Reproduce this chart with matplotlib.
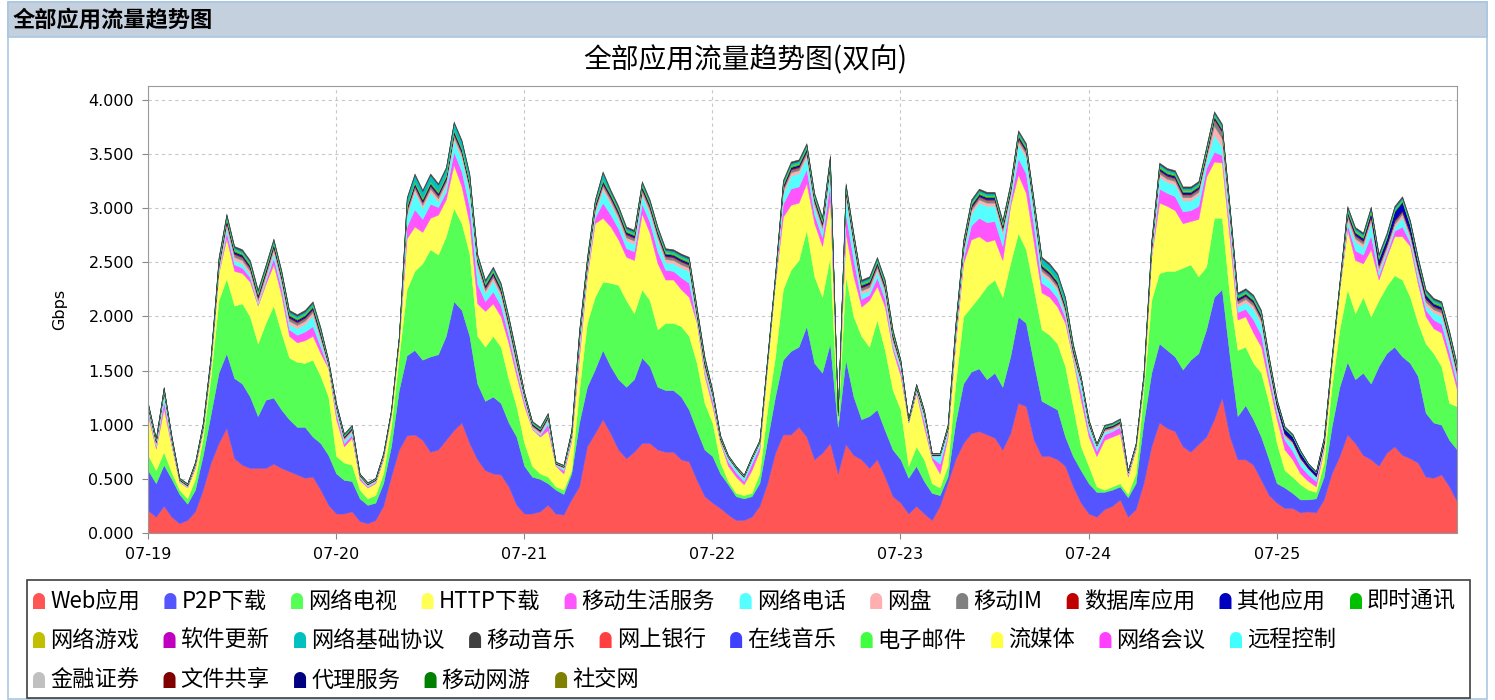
import matplotlib
matplotlib.use("Agg")
import matplotlib.pyplot as plt
import numpy as np
from matplotlib.patches import Polygon, Rectangle
from matplotlib.ticker import FormatStrFormatter

plt.rcParams["font.family"] = ["Noto Sans CJK SC", "DejaVu Sans"]

FIG_W, FIG_H = 1495, 700

day_labels = ["07-19", "07-20", "07-21", "07-22", "07-23", "07-24", "07-25"]
hours = np.arange(168)

# hourly values in Gbps, one row per day
web = [
    0.21, 0.15, 0.25, 0.15, 0.09, 0.12, 0.20, 0.40, 0.65, 0.83, 0.97, 0.69, 0.63, 0.60, 0.60, 0.60, 0.64, 0.60, 0.57, 0.54, 0.51, 0.52, 0.40, 0.26,
    0.18, 0.18, 0.20, 0.11, 0.09, 0.12, 0.25, 0.52, 0.77, 0.90, 0.91, 0.86, 0.75, 0.77, 0.86, 0.95, 1.02, 0.83, 0.68, 0.58, 0.55, 0.54, 0.43, 0.26,
    0.18, 0.18, 0.20, 0.26, 0.18, 0.17, 0.31, 0.43, 0.80, 0.92, 1.05, 0.92, 0.77, 0.69, 0.75, 0.83, 0.83, 0.77, 0.75, 0.75, 0.68, 0.66, 0.49, 0.34,
    0.28, 0.23, 0.17, 0.12, 0.12, 0.15, 0.25, 0.46, 0.74, 0.91, 0.91, 0.98, 0.89, 0.68, 0.74, 0.83, 0.55, 0.82, 0.72, 0.68, 0.60, 0.68, 0.52, 0.34,
    0.28, 0.18, 0.25, 0.18, 0.12, 0.25, 0.46, 0.68, 0.83, 0.92, 0.94, 0.91, 0.88, 0.77, 0.92, 1.20, 1.17, 0.86, 0.71, 0.71, 0.68, 0.62, 0.43, 0.28,
    0.18, 0.15, 0.22, 0.25, 0.31, 0.15, 0.22, 0.46, 0.80, 1.02, 0.97, 0.94, 0.80, 0.75, 0.82, 0.89, 1.05, 1.25, 0.89, 0.68, 0.68, 0.63, 0.49, 0.35,
    0.28, 0.23, 0.23, 0.19, 0.20, 0.19, 0.31, 0.55, 0.71, 0.91, 0.83, 0.72, 0.68, 0.62, 0.74, 0.80, 0.72, 0.69, 0.65, 0.52, 0.51, 0.54, 0.43, 0.29,
]
p2p = [
    0.37, 0.31, 0.38, 0.35, 0.27, 0.15, 0.20, 0.32, 0.45, 0.65, 0.69, 0.74, 0.75, 0.66, 0.48, 0.63, 0.61, 0.54, 0.48, 0.44, 0.47, 0.37, 0.43, 0.46,
    0.37, 0.31, 0.28, 0.21, 0.17, 0.16, 0.21, 0.28, 0.55, 0.74, 0.78, 0.74, 0.88, 0.88, 0.96, 1.19, 1.04, 0.99, 0.70, 0.64, 0.71, 0.66, 0.59, 0.63,
    0.44, 0.34, 0.30, 0.20, 0.22, 0.19, 0.24, 0.59, 0.55, 0.59, 0.64, 0.62, 0.65, 0.66, 0.67, 0.79, 0.71, 0.58, 0.57, 0.57, 0.58, 0.48, 0.46, 0.43,
    0.43, 0.32, 0.28, 0.22, 0.20, 0.19, 0.21, 0.40, 0.52, 0.69, 0.77, 0.74, 1.02, 0.89, 0.74, 0.92, 0.43, 0.78, 0.54, 0.37, 0.48, 0.46, 0.43, 0.43,
    0.40, 0.33, 0.37, 0.30, 0.25, 0.10, 0.06, 0.34, 0.55, 0.57, 0.58, 0.51, 0.60, 0.58, 0.71, 0.80, 0.77, 0.71, 0.51, 0.47, 0.46, 0.27, 0.28, 0.30,
    0.28, 0.23, 0.16, 0.15, 0.12, 0.18, 0.24, 0.56, 0.68, 0.73, 0.72, 0.69, 0.71, 0.85, 0.84, 0.99, 1.13, 1.00, 0.74, 0.40, 0.50, 0.42, 0.40, 0.33,
    0.18, 0.19, 0.14, 0.12, 0.11, 0.13, 0.21, 0.43, 0.64, 0.67, 0.59, 0.76, 0.70, 0.92, 0.92, 0.92, 0.91, 0.88, 0.80, 0.59, 0.51, 0.46, 0.43, 0.48,
]
web_tv = [
    0.14, 0.12, 0.12, 0.06, 0.04, 0.05, 0.10, 0.16, 0.35, 0.67, 0.69, 0.67, 0.74, 0.74, 0.67, 0.71, 0.85, 0.71, 0.57, 0.60, 0.59, 0.71, 0.62, 0.54,
    0.16, 0.16, 0.15, 0.08, 0.06, 0.07, 0.09, 0.18, 0.31, 0.61, 0.73, 0.89, 0.99, 0.92, 0.92, 0.86, 0.80, 0.76, 0.44, 0.50, 0.56, 0.52, 0.40, 0.28,
    0.21, 0.10, 0.05, 0.06, 0.03, 0.04, 0.03, 0.30, 0.59, 0.67, 0.63, 0.77, 0.87, 0.80, 0.61, 0.63, 0.61, 0.53, 0.62, 0.62, 0.65, 0.68, 0.62, 0.43,
    0.31, 0.10, 0.03, 0.03, 0.03, 0.03, 0.09, 0.28, 0.37, 0.65, 0.75, 0.80, 0.89, 0.80, 0.70, 0.80, 0.06, 0.77, 0.74, 0.77, 0.64, 0.83, 0.74, 0.55,
    0.46, 0.11, 0.18, 0.20, 0.09, 0.07, 0.10, 0.36, 0.62, 0.60, 0.66, 0.86, 0.86, 0.83, 0.86, 0.77, 0.68, 0.68, 0.66, 0.65, 0.61, 0.65, 0.46, 0.22,
    0.16, 0.05, 0.02, 0.03, 0.03, 0.03, 0.09, 0.30, 0.67, 0.65, 0.73, 0.79, 0.94, 0.88, 0.71, 0.58, 0.73, 0.66, 0.55, 0.61, 0.54, 0.52, 0.59, 0.52,
    0.37, 0.16, 0.15, 0.14, 0.09, 0.06, 0.13, 0.37, 0.53, 0.67, 0.61, 0.70, 0.62, 0.61, 0.62, 0.66, 0.71, 0.61, 0.49, 0.64, 0.64, 0.54, 0.34, 0.40,
]
http = [
    0.36, 0.20, 0.40, 0.24, 0.07, 0.10, 0.10, 0.07, 0.10, 0.25, 0.37, 0.32, 0.28, 0.32, 0.35, 0.36, 0.38, 0.35, 0.20, 0.18, 0.21, 0.22, 0.21, 0.26,
    0.34, 0.15, 0.25, 0.09, 0.10, 0.11, 0.13, 0.11, 0.12, 0.47, 0.41, 0.29, 0.29, 0.37, 0.34, 0.40, 0.34, 0.28, 0.30, 0.33, 0.30, 0.28, 0.33, 0.28,
    0.34, 0.34, 0.34, 0.43, 0.19, 0.15, 0.27, 0.31, 0.43, 0.68, 0.59, 0.52, 0.42, 0.40, 0.49, 0.70, 0.62, 0.61, 0.40, 0.40, 0.34, 0.36, 0.37, 0.25,
    0.15, 0.18, 0.14, 0.15, 0.10, 0.21, 0.21, 0.40, 0.68, 0.67, 0.60, 0.53, 0.43, 0.49, 0.47, 0.53, 0.03, 0.40, 0.37, 0.27, 0.43, 0.31, 0.40, 0.37,
    0.31, 0.40, 0.49, 0.30, 0.22, 0.13, 0.26, 0.37, 0.49, 0.62, 0.56, 0.41, 0.37, 0.34, 0.53, 0.54, 0.52, 0.43, 0.34, 0.35, 0.34, 0.40, 0.43, 0.43,
    0.27, 0.28, 0.46, 0.46, 0.46, 0.16, 0.22, 0.06, 0.40, 0.65, 0.60, 0.56, 0.41, 0.40, 0.53, 0.83, 0.52, 0.51, 0.53, 0.28, 0.28, 0.28, 0.24, 0.18,
    0.22, 0.19, 0.16, 0.10, 0.08, 0.05, 0.12, 0.20, 0.37, 0.55, 0.49, 0.31, 0.62, 0.19, 0.27, 0.36, 0.40, 0.47, 0.36, 0.25, 0.23, 0.31, 0.40, 0.15,
]
mobile_life = [
    0.03, 0.02, 0.07, 0.02, 0.005, 0.005, 0.02, 0.005, 0.02, 0.01, 0.06, 0.06, 0.05, 0.04, 0.01, 0.03, 0.06, 0.06, 0.06, 0.07, 0.08, 0.09, 0.06, 0.01,
    0.05, 0.03, 0.03, 0.02, 0.01, 0.01, 0.02, 0.01, 0.02, 0.11, 0.16, 0.12, 0.13, 0.07, 0.07, 0.12, 0.14, 0.15, 0.18, 0.09, 0.11, 0.10, 0.07, 0.05,
    0.04, 0.005, 0.015, 0.06, 0.005, 0.03, 0.02, 0.07, 0.03, 0.05, 0.14, 0.11, 0.10, 0.08, 0.08, 0.09, 0.10, 0.11, 0.09, 0.08, 0.11, 0.13, 0.01, 0.03,
    0.05, 0.005, 0.04, 0.04, 0.03, 0.06, 0.04, 0.015, 0.015, 0.12, 0.15, 0.15, 0.13, 0.08, 0.08, 0.15, 0.005, 0.18, 0.15, 0.07, 0.05, 0.08, 0.07, 0.03,
    0.05, 0.005, 0.015, 0.05, 0.02, 0.09, 0.03, 0.03, 0.05, 0.13, 0.17, 0.18, 0.17, 0.13, 0.04, 0.15, 0.18, 0.15, 0.09, 0.08, 0.08, 0.05, 0.01, 0.08,
    0.05, 0.05, 0.05, 0.05, 0.06, 0.02, 0.02, 0.02, 0.02, 0.13, 0.12, 0.13, 0.11, 0.10, 0.12, 0.08, 0.09, 0.07, 0.10, 0.07, 0.07, 0.12, 0.11, 0.07,
    0.06, 0.09, 0.08, 0.07, 0.06, 0.05, 0.02, 0.01, 0.005, 0.05, 0.09, 0.08, 0.13, 0.04, 0.03, 0.05, 0.09, 0.035, 0.05, 0.06, 0.08, 0.08, 0.07, 0.06,
]
voip = [
    0.025, 0.015, 0.065, 0.015, 0.005, 0.005, 0.01, 0.005, 0.015, 0.01, 0.04, 0.04, 0.04, 0.03, 0.01, 0.02, 0.05, 0.04, 0.05, 0.06, 0.07, 0.10, 0.05, 0.005,
    0.035, 0.025, 0.025, 0.01, 0.01, 0.01, 0.01, 0.01, 0.02, 0.10, 0.16, 0.10, 0.11, 0.05, 0.06, 0.11, 0.12, 0.14, 0.15, 0.07, 0.10, 0.08, 0.05, 0.03,
    0.025, 0.005, 0.01, 0.035, 0.005, 0.02, 0.015, 0.05, 0.02, 0.04, 0.12, 0.10, 0.08, 0.07, 0.07, 0.08, 0.08, 0.10, 0.07, 0.07, 0.09, 0.11, 0.01, 0.02,
    0.035, 0.005, 0.03, 0.03, 0.03, 0.04, 0.03, 0.01, 0.01, 0.09, 0.12, 0.12, 0.11, 0.07, 0.06, 0.13, 0.005, 0.15, 0.12, 0.05, 0.04, 0.06, 0.05, 0.03,
    0.035, 0.005, 0.01, 0.045, 0.01, 0.07, 0.025, 0.03, 0.04, 0.11, 0.14, 0.15, 0.14, 0.11, 0.04, 0.13, 0.15, 0.12, 0.08, 0.07, 0.07, 0.03, 0.01, 0.075,
    0.045, 0.04, 0.025, 0.015, 0.015, 0.01, 0.01, 0.015, 0.01, 0.11, 0.10, 0.11, 0.10, 0.09, 0.10, 0.07, 0.16, 0.075, 0.08, 0.05, 0.06, 0.10, 0.10, 0.05,
    0.04, 0.03, 0.06, 0.05, 0.05, 0.035, 0.015, 0.005, 0.005, 0.04, 0.08, 0.07, 0.12, 0.035, 0.025, 0.035, 0.085, 0.03, 0.045, 0.045, 0.065, 0.075, 0.065, 0.045,
]
net_disk = [
    0.015, 0.015, 0.015, 0.015, 0.006, 0.006, 0.006, 0.015, 0.015, 0.03, 0.03, 0.03, 0.03, 0.03, 0.03, 0.03, 0.03, 0.03, 0.03, 0.03, 0.03, 0.03, 0.03, 0.015,
    0.015, 0.015, 0.015, 0.006, 0.006, 0.006, 0.006, 0.006, 0.006, 0.03, 0.03, 0.03, 0.03, 0.03, 0.03, 0.03, 0.03, 0.03, 0.03, 0.03, 0.03, 0.03, 0.03, 0.03,
    0.015, 0.015, 0.015, 0.015, 0.006, 0.006, 0.015, 0.03, 0.03, 0.03, 0.03, 0.03, 0.03, 0.03, 0.03, 0.03, 0.03, 0.03, 0.03, 0.03, 0.03, 0.03, 0.03, 0.03,
    0.015, 0.015, 0.006, 0.006, 0.006, 0.006, 0.006, 0.015, 0.015, 0.03, 0.03, 0.03, 0.03, 0.03, 0.03, 0.03, 0.006, 0.03, 0.03, 0.03, 0.03, 0.03, 0.03, 0.03,
    0.015, 0.006, 0.015, 0.015, 0.006, 0.006, 0.015, 0.03, 0.03, 0.03, 0.03, 0.03, 0.03, 0.03, 0.03, 0.03, 0.03, 0.03, 0.03, 0.03, 0.03, 0.03, 0.03, 0.015,
    0.015, 0.006, 0.015, 0.015, 0.015, 0.006, 0.006, 0.015, 0.03, 0.03, 0.03, 0.03, 0.03, 0.03, 0.03, 0.03, 0.08, 0.08, 0.03, 0.03, 0.03, 0.03, 0.03, 0.03,
    0.015, 0.015, 0.015, 0.015, 0.006, 0.006, 0.015, 0.015, 0.015, 0.03, 0.03, 0.03, 0.03, 0.03, 0.03, 0.03, 0.03, 0.03, 0.03, 0.03, 0.03, 0.03, 0.03, 0.03,
]
mobile_im = [
    0.012, 0.012, 0.012, 0.012, 0.005, 0.005, 0.005, 0.012, 0.012, 0.025, 0.025, 0.025, 0.025, 0.025, 0.025, 0.025, 0.025, 0.025, 0.025, 0.025, 0.025, 0.025, 0.025, 0.012,
    0.012, 0.012, 0.012, 0.005, 0.005, 0.005, 0.005, 0.005, 0.005, 0.025, 0.025, 0.025, 0.025, 0.025, 0.025, 0.025, 0.025, 0.025, 0.025, 0.025, 0.025, 0.025, 0.025, 0.025,
    0.012, 0.012, 0.012, 0.012, 0.005, 0.005, 0.012, 0.025, 0.025, 0.025, 0.025, 0.025, 0.025, 0.025, 0.025, 0.025, 0.025, 0.025, 0.025, 0.025, 0.025, 0.025, 0.025, 0.025,
    0.012, 0.012, 0.005, 0.005, 0.005, 0.005, 0.005, 0.012, 0.012, 0.025, 0.025, 0.025, 0.025, 0.025, 0.025, 0.025, 0.005, 0.025, 0.025, 0.025, 0.025, 0.025, 0.025, 0.025,
    0.012, 0.005, 0.012, 0.012, 0.005, 0.005, 0.012, 0.025, 0.025, 0.025, 0.025, 0.025, 0.025, 0.025, 0.025, 0.025, 0.025, 0.025, 0.025, 0.025, 0.025, 0.025, 0.025, 0.012,
    0.012, 0.005, 0.012, 0.012, 0.012, 0.005, 0.005, 0.012, 0.025, 0.025, 0.025, 0.025, 0.025, 0.025, 0.025, 0.025, 0.06, 0.06, 0.025, 0.025, 0.025, 0.025, 0.025, 0.025,
    0.012, 0.012, 0.012, 0.012, 0.005, 0.005, 0.012, 0.012, 0.012, 0.025, 0.025, 0.025, 0.025, 0.025, 0.025, 0.025, 0.025, 0.025, 0.025, 0.025, 0.025, 0.025, 0.025, 0.025,
]
database = [
    0.004, 0.004, 0.004, 0.004, 0.002, 0.002, 0.002, 0.004, 0.004, 0.008, 0.008, 0.008, 0.008, 0.008, 0.008, 0.008, 0.008, 0.008, 0.008, 0.008, 0.008, 0.008, 0.008, 0.004,
    0.004, 0.004, 0.004, 0.002, 0.002, 0.002, 0.002, 0.002, 0.002, 0.008, 0.008, 0.008, 0.008, 0.008, 0.008, 0.008, 0.008, 0.008, 0.008, 0.008, 0.008, 0.008, 0.008, 0.008,
    0.004, 0.004, 0.004, 0.004, 0.002, 0.002, 0.004, 0.008, 0.008, 0.008, 0.008, 0.008, 0.008, 0.008, 0.008, 0.008, 0.008, 0.008, 0.008, 0.008, 0.008, 0.008, 0.008, 0.008,
    0.004, 0.004, 0.002, 0.002, 0.002, 0.002, 0.002, 0.004, 0.004, 0.008, 0.008, 0.008, 0.008, 0.008, 0.008, 0.008, 0.002, 0.008, 0.008, 0.008, 0.008, 0.008, 0.008, 0.008,
    0.004, 0.002, 0.004, 0.004, 0.002, 0.002, 0.004, 0.008, 0.008, 0.008, 0.008, 0.008, 0.008, 0.008, 0.008, 0.008, 0.008, 0.008, 0.008, 0.008, 0.008, 0.008, 0.008, 0.004,
    0.004, 0.002, 0.004, 0.004, 0.004, 0.002, 0.002, 0.004, 0.008, 0.008, 0.008, 0.008, 0.008, 0.008, 0.008, 0.008, 0.008, 0.008, 0.008, 0.008, 0.008, 0.008, 0.008, 0.008,
    0.004, 0.004, 0.004, 0.004, 0.002, 0.002, 0.004, 0.004, 0.004, 0.008, 0.008, 0.008, 0.008, 0.008, 0.008, 0.008, 0.008, 0.008, 0.008, 0.008, 0.008, 0.008, 0.008, 0.008,
]
other_apps = [
    0.008, 0.008, 0.008, 0.008, 0.004, 0.004, 0.004, 0.008, 0.008, 0.015, 0.015, 0.015, 0.015, 0.015, 0.015, 0.015, 0.015, 0.015, 0.015, 0.015, 0.015, 0.015, 0.015, 0.008,
    0.008, 0.008, 0.008, 0.004, 0.004, 0.004, 0.004, 0.004, 0.004, 0.015, 0.015, 0.015, 0.015, 0.015, 0.015, 0.015, 0.015, 0.015, 0.015, 0.015, 0.015, 0.015, 0.015, 0.015,
    0.008, 0.008, 0.008, 0.008, 0.004, 0.004, 0.008, 0.015, 0.015, 0.015, 0.015, 0.015, 0.015, 0.015, 0.015, 0.015, 0.015, 0.015, 0.015, 0.015, 0.015, 0.015, 0.015, 0.015,
    0.008, 0.008, 0.004, 0.004, 0.004, 0.004, 0.004, 0.008, 0.008, 0.015, 0.015, 0.015, 0.015, 0.015, 0.015, 0.015, 0.004, 0.015, 0.015, 0.015, 0.015, 0.015, 0.015, 0.015,
    0.008, 0.004, 0.008, 0.008, 0.004, 0.004, 0.008, 0.015, 0.015, 0.015, 0.015, 0.015, 0.015, 0.015, 0.015, 0.015, 0.015, 0.015, 0.015, 0.015, 0.015, 0.015, 0.015, 0.008,
    0.008, 0.004, 0.008, 0.008, 0.008, 0.004, 0.004, 0.008, 0.015, 0.015, 0.015, 0.015, 0.015, 0.015, 0.015, 0.015, 0.015, 0.015, 0.015, 0.015, 0.015, 0.015, 0.015, 0.015,
    0.03, 0.04, 0.04, 0.04, 0.03, 0.03, 0.025, 0.01, 0.008, 0.015, 0.02, 0.02, 0.03, 0.05, 0.05, 0.08, 0.08, 0.06, 0.04, 0.03, 0.02, 0.02, 0.02, 0.015,
]
instant_msg = [
    0.005, 0.005, 0.005, 0.005, 0.002, 0.002, 0.002, 0.005, 0.005, 0.01, 0.01, 0.01, 0.01, 0.01, 0.01, 0.01, 0.01, 0.01, 0.01, 0.01, 0.01, 0.01, 0.01, 0.005,
    0.005, 0.005, 0.005, 0.002, 0.002, 0.002, 0.002, 0.002, 0.002, 0.01, 0.01, 0.01, 0.01, 0.01, 0.01, 0.01, 0.01, 0.01, 0.01, 0.01, 0.01, 0.01, 0.01, 0.01,
    0.005, 0.005, 0.005, 0.005, 0.002, 0.002, 0.005, 0.01, 0.01, 0.01, 0.01, 0.01, 0.01, 0.01, 0.01, 0.01, 0.01, 0.01, 0.01, 0.01, 0.01, 0.01, 0.01, 0.01,
    0.005, 0.005, 0.002, 0.002, 0.002, 0.002, 0.002, 0.005, 0.005, 0.01, 0.01, 0.01, 0.01, 0.01, 0.01, 0.01, 0.002, 0.01, 0.01, 0.01, 0.01, 0.01, 0.01, 0.01,
    0.005, 0.002, 0.005, 0.005, 0.002, 0.002, 0.005, 0.01, 0.01, 0.01, 0.01, 0.01, 0.01, 0.01, 0.01, 0.01, 0.01, 0.01, 0.01, 0.01, 0.01, 0.01, 0.01, 0.005,
    0.005, 0.002, 0.005, 0.005, 0.005, 0.002, 0.002, 0.005, 0.01, 0.01, 0.01, 0.01, 0.01, 0.01, 0.01, 0.01, 0.01, 0.01, 0.01, 0.01, 0.01, 0.01, 0.01, 0.01,
    0.005, 0.005, 0.005, 0.005, 0.002, 0.002, 0.005, 0.005, 0.005, 0.01, 0.01, 0.01, 0.01, 0.01, 0.01, 0.01, 0.01, 0.01, 0.01, 0.01, 0.01, 0.01, 0.01, 0.01,
]
net_game = [
    0.003, 0.003, 0.003, 0.003, 0.002, 0.002, 0.002, 0.003, 0.003, 0.007, 0.007, 0.007, 0.007, 0.007, 0.007, 0.007, 0.007, 0.007, 0.007, 0.007, 0.007, 0.007, 0.007, 0.003,
    0.003, 0.003, 0.003, 0.002, 0.002, 0.002, 0.002, 0.002, 0.002, 0.007, 0.007, 0.007, 0.007, 0.007, 0.007, 0.007, 0.007, 0.007, 0.007, 0.007, 0.007, 0.007, 0.007, 0.007,
    0.003, 0.003, 0.003, 0.003, 0.002, 0.002, 0.003, 0.007, 0.007, 0.007, 0.007, 0.007, 0.007, 0.007, 0.007, 0.007, 0.007, 0.007, 0.007, 0.007, 0.007, 0.007, 0.007, 0.007,
    0.003, 0.003, 0.002, 0.002, 0.002, 0.002, 0.002, 0.003, 0.003, 0.007, 0.007, 0.007, 0.007, 0.007, 0.007, 0.007, 0.002, 0.007, 0.007, 0.007, 0.007, 0.007, 0.007, 0.007,
    0.003, 0.002, 0.003, 0.003, 0.002, 0.002, 0.003, 0.007, 0.007, 0.007, 0.007, 0.007, 0.007, 0.007, 0.007, 0.007, 0.007, 0.007, 0.007, 0.007, 0.007, 0.007, 0.007, 0.003,
    0.003, 0.002, 0.003, 0.003, 0.003, 0.002, 0.002, 0.003, 0.007, 0.007, 0.007, 0.007, 0.007, 0.007, 0.007, 0.007, 0.007, 0.007, 0.007, 0.007, 0.007, 0.007, 0.007, 0.007,
    0.003, 0.003, 0.003, 0.003, 0.002, 0.002, 0.003, 0.003, 0.003, 0.007, 0.007, 0.007, 0.007, 0.007, 0.007, 0.007, 0.007, 0.007, 0.007, 0.007, 0.007, 0.007, 0.007, 0.007,
]
net_protocol = [
    0.01, 0.01, 0.01, 0.01, 0.005, 0.005, 0.005, 0.01, 0.01, 0.02, 0.02, 0.02, 0.02, 0.02, 0.02, 0.02, 0.02, 0.02, 0.02, 0.02, 0.02, 0.02, 0.02, 0.01,
    0.01, 0.01, 0.01, 0.005, 0.005, 0.005, 0.005, 0.005, 0.005, 0.06, 0.06, 0.06, 0.06, 0.06, 0.06, 0.06, 0.06, 0.06, 0.02, 0.02, 0.02, 0.02, 0.02, 0.02,
    0.01, 0.01, 0.01, 0.01, 0.005, 0.005, 0.01, 0.02, 0.02, 0.02, 0.06, 0.02, 0.02, 0.02, 0.02, 0.02, 0.02, 0.02, 0.02, 0.02, 0.02, 0.02, 0.02, 0.02,
    0.01, 0.01, 0.005, 0.005, 0.005, 0.005, 0.005, 0.01, 0.01, 0.02, 0.02, 0.02, 0.02, 0.02, 0.02, 0.02, 0.005, 0.02, 0.02, 0.02, 0.02, 0.02, 0.02, 0.02,
    0.01, 0.005, 0.01, 0.01, 0.005, 0.005, 0.01, 0.02, 0.02, 0.02, 0.02, 0.02, 0.02, 0.02, 0.02, 0.02, 0.02, 0.02, 0.05, 0.05, 0.05, 0.05, 0.02, 0.01,
    0.01, 0.005, 0.01, 0.01, 0.01, 0.005, 0.005, 0.01, 0.02, 0.02, 0.02, 0.02, 0.02, 0.02, 0.02, 0.02, 0.02, 0.02, 0.02, 0.02, 0.02, 0.02, 0.02, 0.02,
    0.01, 0.01, 0.01, 0.01, 0.005, 0.005, 0.01, 0.01, 0.01, 0.02, 0.02, 0.02, 0.02, 0.02, 0.02, 0.02, 0.02, 0.02, 0.02, 0.02, 0.02, 0.02, 0.02, 0.02,
]
mobile_music = [
    0.008, 0.008, 0.008, 0.008, 0.004, 0.004, 0.004, 0.008, 0.008, 0.015, 0.015, 0.015, 0.015, 0.015, 0.015, 0.015, 0.015, 0.015, 0.015, 0.015, 0.015, 0.015, 0.015, 0.008,
    0.008, 0.008, 0.008, 0.004, 0.004, 0.004, 0.004, 0.004, 0.004, 0.015, 0.015, 0.015, 0.015, 0.015, 0.015, 0.015, 0.015, 0.015, 0.015, 0.015, 0.015, 0.015, 0.015, 0.015,
    0.008, 0.008, 0.008, 0.008, 0.004, 0.004, 0.008, 0.015, 0.015, 0.015, 0.015, 0.015, 0.015, 0.015, 0.015, 0.015, 0.015, 0.015, 0.015, 0.015, 0.015, 0.015, 0.015, 0.015,
    0.008, 0.008, 0.004, 0.004, 0.004, 0.004, 0.004, 0.008, 0.008, 0.015, 0.015, 0.015, 0.015, 0.015, 0.015, 0.015, 0.004, 0.015, 0.015, 0.015, 0.015, 0.015, 0.015, 0.015,
    0.008, 0.004, 0.008, 0.008, 0.004, 0.004, 0.008, 0.015, 0.015, 0.015, 0.015, 0.015, 0.015, 0.015, 0.015, 0.015, 0.015, 0.015, 0.015, 0.015, 0.015, 0.015, 0.015, 0.008,
    0.008, 0.004, 0.008, 0.008, 0.008, 0.004, 0.004, 0.008, 0.015, 0.015, 0.015, 0.015, 0.015, 0.015, 0.015, 0.015, 0.015, 0.015, 0.015, 0.015, 0.015, 0.015, 0.015, 0.015,
    0.008, 0.008, 0.008, 0.008, 0.004, 0.004, 0.008, 0.008, 0.008, 0.015, 0.015, 0.015, 0.015, 0.015, 0.015, 0.015, 0.015, 0.015, 0.015, 0.015, 0.015, 0.015, 0.015, 0.015,
]

legend_names = [
    "Web应用", "P2P下载", "网络电视", "HTTP下载", "移动生活服务", "网络电话", "网盘", "移动IM",
    "数据库应用", "其他应用", "即时通讯", "网络游戏", "软件更新", "网络基础协议", "移动音乐",
    "网上银行", "在线音乐", "电子邮件", "流媒体", "网络会议", "远程控制", "金融证券", "文件共享",
    "代理服务", "移动网游", "社交网",
]
legend_colors = [
    "#ff5555", "#5555ff", "#55ff55", "#ffff55", "#ff55ff", "#55ffff", "#ffafaf", "#808080",
    "#c00000", "#0000c0", "#00c000", "#c0c000", "#c000c0", "#00c0c0", "#404040",
    "#ff4040", "#4040ff", "#40ff40", "#ffff40", "#ff40ff", "#40ffff", "#c0c0c0", "#800000",
    "#000080", "#008000", "#808000",
]
legend_rows = [11, 10, 5]

stacked = [
    ("Web应用", web), ("P2P下载", p2p), ("网络电视", web_tv), ("HTTP下载", http),
    ("移动生活服务", mobile_life), ("网络电话", voip), ("网盘", net_disk), ("移动IM", mobile_im),
    ("数据库应用", database), ("其他应用", other_apps), ("即时通讯", instant_msg),
    ("网络游戏", net_game), ("网络基础协议", net_protocol), ("移动音乐", mobile_music),
]
for name, vals in stacked:
    assert len(vals) == 168, (name, len(vals))


def fx(x):
    return x / FIG_W


def fy(y):
    return 1 - y / FIG_H


fig = plt.figure(figsize=(FIG_W / 100, FIG_H / 100), dpi=100)

# outer panel and header bar
fig.add_artist(Rectangle((fx(8), fy(699)), fx(1487) - fx(8), fy(2) - fy(699),
                         transform=fig.transFigure, facecolor="white", edgecolor="#a9c7e2", lw=1.2, zorder=0))
fig.add_artist(Rectangle((fx(8), fy(37)), fx(1487) - fx(8), fy(2) - fy(37),
                         transform=fig.transFigure, facecolor="#c5d0df", edgecolor="#a9c7e2", lw=1.2, zorder=1))
fig.text(fx(13), fy(20), "全部应用流量趋势图", fontsize=16, fontweight="bold", ha="left", va="center")
fig.text(fx(745), fy(60), "全部应用流量趋势图(双向)", fontsize=20, ha="center", va="center")

ax = fig.add_axes([fx(148), fy(533), fx(1457) - fx(148), fy(86) - fy(533)])
color_of = dict(zip(legend_names, legend_colors))
polys = ax.stackplot(hours, *[v for _, v in stacked], colors=[color_of[n] for n, _ in stacked], linewidth=0)
for p in polys:
    p.set_edgecolor(p.get_facecolor())
    p.set_linewidth(0.3)

ax.set_xlim(0, 167)
ax.set_ylim(0, 4.127)
ax.set_xticks(np.arange(0, 168, 24))
ax.set_xticklabels(day_labels)
ax.set_yticks(np.arange(0, 4.01, 0.5))
ax.yaxis.set_major_formatter(FormatStrFormatter("%.3f"))
ax.grid(True, color="#c8c8c8", linestyle=(0, (3, 3)), linewidth=0.8)
ax.set_axisbelow(True)
ax.tick_params(direction="out", length=4, color="#888888", labelsize=11.5, pad=6)
for lbl in ax.get_xticklabels() + ax.get_yticklabels():
    lbl.set_fontfamily("DejaVu Sans")
for s in ax.spines.values():
    s.set_color("#9a9a9a")
ax.set_ylabel("Gbps", fontsize=11.5, family="DejaVu Sans")
ax.yaxis.set_label_coords(-0.062, 0.5)

# legend box with flowing entries
fig.add_artist(Rectangle((fx(27), fy(698)), fx(1470) - fx(27), fy(580) - fy(698),
                         transform=fig.transFigure, facecolor="none", edgecolor="#404040", lw=1.2, zorder=2))

renderer = fig.canvas.get_renderer()
font_kw = dict(fontsize=16, ha="left", va="center")
widths = []
for name in legend_names:
    t = fig.text(0, 0, name, **font_kw)
    widths.append(t.get_window_extent(renderer).width)
    t.remove()

marker_w, marker_h, text_gap = 12, 16, 5
x_start, x_end = 33, 1456
n0 = legend_rows[0]
used = sum(marker_w + text_gap + w for w in widths[:n0])
item_gap = (x_end - x_start - used) / (n0 - 1)
row_y = [601, 640, 680]


def bell(x0, yc, color):
    r = marker_w / 2
    yb = yc + marker_h / 2
    yc_top = yc - marker_h / 2 + r
    pts = [(x0, yb), (x0 + marker_w, yb), (x0 + marker_w, yc_top)]
    for a in np.linspace(0, np.pi, 14):
        pts.append((x0 + r + r * np.cos(a), yc_top - r * np.sin(a)))
    pts.append((x0, yc_top))
    fig.add_artist(Polygon([(fx(px), fy(py)) for px, py in pts], closed=True,
                           transform=fig.transFigure, facecolor=color, edgecolor="none", zorder=3))


idx = 0
for row, count in enumerate(legend_rows):
    x = x_start
    for _ in range(count):
        bell(x, row_y[row], legend_colors[idx])
        fig.text(fx(x + marker_w + text_gap), fy(row_y[row]), legend_names[idx], **font_kw)
        x += marker_w + text_gap + widths[idx] + item_gap
        idx += 1

fig.savefig("out.png", dpi=100)
